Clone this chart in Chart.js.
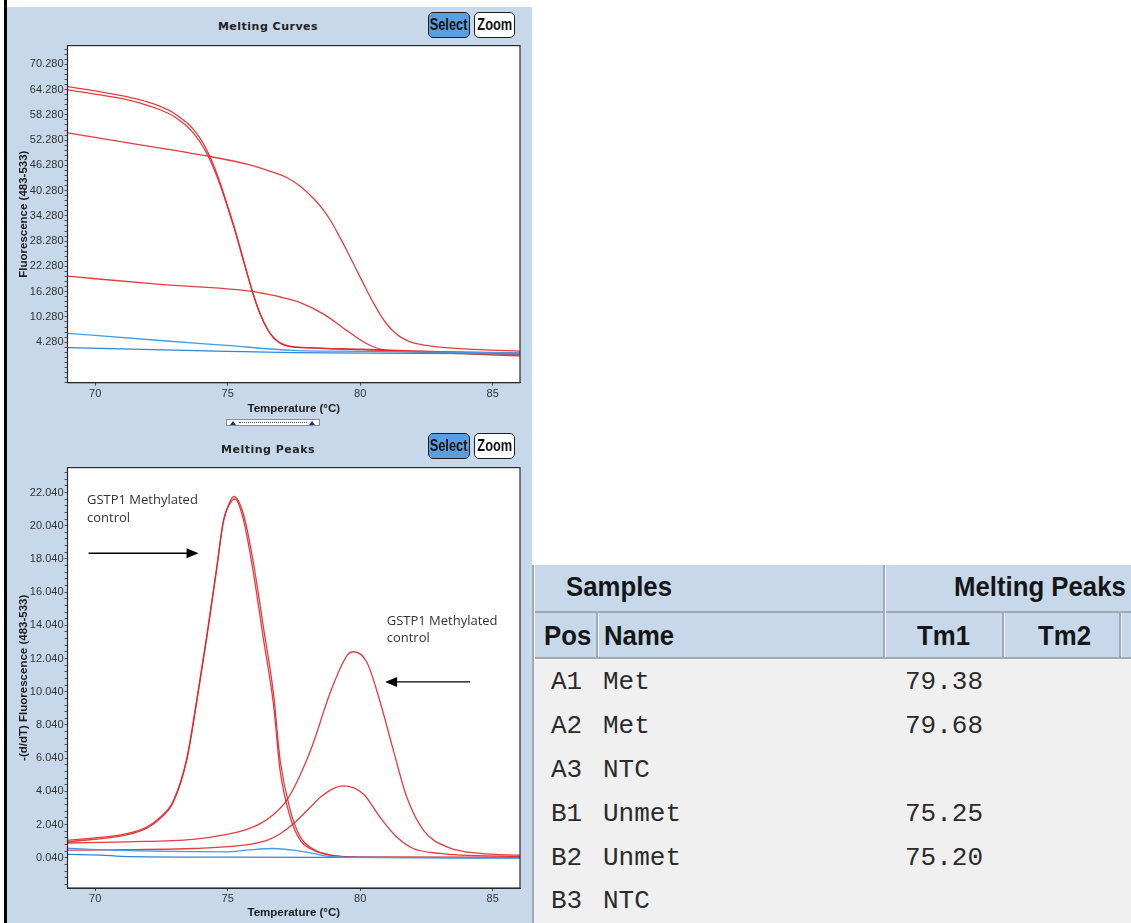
<!DOCTYPE html>
<html>
<head>
<meta charset="utf-8">
<script src="https://cdn.jsdelivr.net/npm/chart.js@4.4.1/dist/chart.umd.min.js"></script>
<style>
  html, body { margin: 0; padding: 0; background: #fff; }
  body { width: 1131px; height: 923px; position: relative; overflow: hidden; font-family: "Liberation Sans", Arial, sans-serif; }
  .abs { position: absolute; }
  .edge { left: 4px; top: 0; width: 3px; height: 923px; background: #000; }
  .panel { left: 7px; top: 7px; width: 525px; height: 916px; background: #c6d8ea; }
  .ptitle { font: bold 11px "DejaVu Sans", sans-serif; letter-spacing: 0.5px; color: #222; white-space: nowrap; transform: translate(-50%, -50%); }
  .btn { box-sizing: border-box; border: 1px solid #1e1e1e; border-radius: 5px; display: flex; align-items: center; justify-content: center; overflow: hidden; }
  .btn span { display: inline-block; font: bold 16px "Liberation Sans", Arial, sans-serif; transform: scaleX(0.8); color: #111; }
  .btn.on { background: #5a9ee0; }
  .btn.off { background: #fff; }
  canvas { position: absolute; }
  .slider { left: 226px; top: 419px; width: 94px; height: 7px; box-sizing: border-box; background: #fff; border: 1px solid #8a8f96; }
  .slider .dots { position: absolute; left: 12px; right: 12px; top: 2px; border-top: 1px dotted #555; }
  .tri { width: 0; height: 0; border-left: 3px solid transparent; border-right: 3px solid transparent; border-bottom: 4px solid #1c2a7a; }
  .tbl { left: 532px; top: 565px; width: 599px; height: 358px; background: #f0f0f0; overflow: hidden; }
  .hdr { position: absolute; left: 0; width: 599px; background: #c6d8ea; }
  .hline { position: absolute; left: 0; width: 599px; height: 2px; background: #a2a9b1; }
  .vline { position: absolute; width: 2px; background: #a2a9b1; box-shadow: 1px 0 0 #eef3f8; }
  .htxt { position: absolute; font: bold 28px "Liberation Sans", Arial, sans-serif; color: #161616; transform-origin: left center; transform: scaleX(0.92); white-space: nowrap; height: 32px; line-height: 32px; }
  .cell { position: absolute; font: 26px "Liberation Mono", "Courier New", monospace; color: #2b2b2b; white-space: nowrap; height: 30px; line-height: 30px; }
</style>
</head>
<body>
<div class="abs edge"></div>
<div class="abs panel"></div>

<div class="abs ptitle" style="left:268px;top:26px;">Melting Curves</div>
<div class="abs btn on"  style="left:428px;top:12px;width:42px;height:26px;"><span>Select</span></div>
<div class="abs btn off" style="left:474px;top:12px;width:41px;height:26px;"><span>Zoom</span></div>
<canvas id="curves" width="525" height="382" style="left:7px;top:38px;"></canvas>
<div class="abs slider"><div class="dots"></div></div>
<div class="abs tri" style="left:230px;top:421px;"></div>
<div class="abs tri" style="left:309px;top:421px;"></div>

<div class="abs ptitle" style="left:268px;top:449px;">Melting Peaks</div>
<div class="abs btn on"  style="left:428px;top:433px;width:42px;height:26px;"><span>Select</span></div>
<div class="abs btn off" style="left:474px;top:433px;width:41px;height:26px;"><span>Zoom</span></div>
<canvas id="peaks" width="525" height="463" style="left:7px;top:460px;"></canvas>

<div class="abs tbl" id="tbl"></div>

<script>
// ---- Axis tick labels ----
const tempTicks = [70, 75, 80, 85];
const fluorTickLabels = ['4.280', '10.280', '16.280', '22.280', '28.280', '34.280', '40.280', '46.280', '52.280', '58.280', '64.280', '70.280'];
const peakTickLabels = ['0.040', '2.040', '4.040', '6.040', '8.040', '10.040', '12.040', '14.040', '16.040', '18.040', '20.040', '22.040'];

// ---- Melting curves: [temperature °C, fluorescence (483-533)] ----
const curveA1Met = [[68.96, 19.95], [72.45, 18.0], [75.85, 16.42], [76.4, 15.8], [76.98, 15.01], [77.74, 13.67], [78.62, 10.95], [79.5, 7.03], [80.25, 3.9], [81.0, 2.33], [82.0, 2.1], [84.0, 1.9], [86.05, 1.75]];
const curveA2Met = [[68.96, 54.0], [71.19, 51.7], [74.21, 48.53], [75.72, 46.56], [76.73, 44.6], [77.23, 43.4], [77.74, 41.3], [78.24, 38.4], [78.62, 35.6], [78.87, 33.3], [79.25, 29.0], [79.5, 26.0], [79.88, 21.2], [80.25, 16.6], [80.5, 13.6], [80.75, 10.9], [81.0, 8.6], [81.26, 6.8], [81.5, 5.6], [81.76, 4.7], [82.0, 4.1], [82.5, 3.5], [83.02, 3.1], [84.52, 2.49], [86.05, 2.17]];
const curveA3NTC = [[68.96, 6.39], [72.45, 4.68], [74.97, 3.5], [77.47, 2.33], [80.0, 2.1], [83.0, 1.9], [86.05, 1.7]];
const curveB1Unmet = [[68.96, 64.97], [70.0, 64.0], [71.19, 62.6], [72.0, 61.3], [72.45, 60.3], [72.95, 58.8], [73.2, 57.7], [73.46, 56.4], [73.7, 54.9], [73.95, 52.8], [74.21, 49.9], [74.45, 46.6], [74.7, 42.4], [74.97, 37.2], [75.25, 31.6], [75.5, 26.0], [75.72, 21.0], [75.97, 15.6], [76.23, 10.9], [76.5, 7.3], [76.73, 5.3], [77.0, 4.0], [77.36, 3.3], [78.0, 3.0], [80.0, 2.6], [82.0, 2.2], [84.0, 1.8], [86.05, 1.3]];
const curveB2Unmet = [[68.96, 64.2], [70.0, 63.2], [71.19, 61.9], [72.0, 60.5], [72.45, 59.5], [72.95, 58.0], [73.2, 56.9], [73.46, 55.6], [73.7, 54.0], [73.95, 51.9], [74.21, 49.1], [74.45, 45.9], [74.7, 41.9], [74.97, 36.8], [75.25, 31.2], [75.5, 25.7], [75.72, 20.8], [75.97, 15.5], [76.23, 10.9], [76.5, 7.4], [76.73, 5.4], [77.0, 4.0], [77.36, 3.25], [78.0, 2.9], [80.0, 2.5], [82.0, 2.0], [84.0, 1.5], [86.05, 1.0]];
const curveB3NTC = [[68.96, 2.96], [74.97, 2.1], [77.47, 1.79], [82.0, 1.65], [86.05, 1.5]];

// ---- Melting peaks: [temperature °C, -(d/dT) fluorescence] ----
const peakA1Met = [[68.96, 0.5], [73.7, 0.6], [75.6, 0.8], [76.48, 1.09], [76.98, 1.49], [77.48, 2.09], [78.24, 3.28], [78.49, 3.68], [79.37, 4.37], [80.12, 3.88], [80.75, 2.48], [81.38, 1.29], [82.0, 0.6], [83.02, 0.3], [83.77, 0.2], [86.05, 0.12]];
const peakA2Met = [[68.96, 0.93], [71.2, 1.0], [73.7, 1.15], [74.97, 1.45], [75.72, 1.75], [76.23, 2.1], [76.73, 2.65], [77.23, 3.5], [77.61, 4.6], [78.0, 6.0], [78.24, 7.0], [78.87, 10.0], [79.5, 12.22], [79.75, 12.45], [80.25, 11.82], [80.75, 9.44], [81.26, 6.46], [81.76, 3.68], [82.39, 1.69], [83.27, 0.7], [84.53, 0.3], [86.05, 0.2]];
const peakA3NTC = [[68.96, 0.62], [70.57, 0.5], [74.97, 0.4], [75.72, 0.5], [76.73, 0.6], [77.48, 0.5], [78.24, 0.3], [78.74, 0.14], [80.0, 0.06], [86.05, 0.02]];
const peakB1Unmet = [[68.96, 1.09], [71.19, 1.49], [71.95, 1.89], [72.45, 2.48], [72.95, 3.48], [73.46, 6.06], [73.84, 9.63], [74.21, 13.41], [74.59, 17.58], [74.84, 20.36], [75.16, 21.55], [75.28, 21.65], [75.6, 20.36], [75.97, 17.19], [76.35, 13.21], [76.73, 9.24], [76.98, 5.27], [77.36, 2.48], [77.74, 1.09], [78.24, 0.5], [78.87, 0.2], [80.0, 0.08], [86.05, 0.06]];
const peakB2Unmet = [[68.96, 1.0], [71.19, 1.42], [71.95, 1.82], [72.45, 2.4], [72.95, 3.4], [73.46, 5.95], [73.84, 9.5], [74.21, 13.3], [74.59, 17.5], [74.84, 20.3], [75.12, 21.6], [75.24, 21.8], [75.6, 20.7], [75.97, 17.8], [76.35, 13.9], [76.73, 9.9], [76.98, 5.9], [77.36, 2.9], [77.74, 1.3], [78.24, 0.55], [78.87, 0.2], [80.0, 0.08], [86.05, 0.06]];
const peakB3NTC = [[68.96, 0.24], [70.2, 0.2], [71.0, 0.13], [75.0, 0.08], [86.05, 0.03]];

// ---- Sample table ----
const samplePos = ['A1', 'A2', 'A3', 'B1', 'B2', 'B3'];
const sampleName = ['Met', 'Met', 'NTC', 'Unmet', 'Unmet', 'NTC'];
const sampleTm1 = ['79.38', '79.68', '', '75.25', '75.20', ''];

const RED = 'rgba(228,32,38,0.88)';
const BLUE1 = '#3f9de8';
const BLUE2 = '#2d86d8';

function toPts(arr) { return arr.map(p => ({ x: p[0], y: p[1] })); }

function series(a1, a2, a3, b1, b2, b3) {
  const mk = (d, c) => ({ data: toPts(d), borderColor: c, borderWidth: 1.3, pointRadius: 0, fill: false, cubicInterpolationMode: 'monotone' });
  return [mk(a3, BLUE1), mk(b3, BLUE2), mk(a1, RED), mk(a2, RED), mk(b1, RED), mk(b2, RED)];
}

// white plot background and dark frame around the plot area
const framePlugin = {
  id: 'frame',
  beforeDraw(chart) {
    const a = chart.chartArea, ctx = chart.ctx;
    ctx.save(); ctx.fillStyle = '#fff';
    ctx.fillRect(a.left, a.top, a.right - a.left, a.bottom - a.top);
    ctx.restore();
  },
  afterDraw(chart) {
    const a = chart.chartArea, ctx = chart.ctx;
    ctx.save(); ctx.strokeStyle = '#2a2a2a'; ctx.lineWidth = 1.2;
    ctx.strokeRect(a.left, a.top, a.right - a.left, a.bottom - a.top);
    ctx.restore();
  }
};

// Callout labels with arrows on the peaks panel, anchored in data units
const callouts = [
  { text: ['GSTP1 Methylated', 'control'], tx: 69.69, ty: 21.55, from: 69.75, to: 73.9, ay: 18.38 },
  { text: ['GSTP1 Methylated', 'control'], tx: 81.0, ty: 14.3, from: 84.15, to: 80.94, ay: 10.63 }
];
const calloutPlugin = {
  id: 'callouts',
  afterDraw(chart) {
    const ctx = chart.ctx, sx = chart.scales.x, sy = chart.scales.y;
    ctx.save();
    callouts.forEach(c => {
      ctx.fillStyle = '#333';
      ctx.font = '13px "Open Sans", sans-serif';
      ctx.textBaseline = 'middle';
      ctx.textAlign = 'left';
      const x0 = sx.getPixelForValue(c.tx), y0 = sy.getPixelForValue(c.ty);
      c.text.forEach((t, i) => ctx.fillText(t, x0, y0 + i * 17.5));
      const xa = sx.getPixelForValue(c.from), xb = sx.getPixelForValue(c.to), ya = sy.getPixelForValue(c.ay);
      const dir = xb > xa ? 1 : -1;
      ctx.strokeStyle = '#000'; ctx.lineWidth = 1.3;
      ctx.beginPath(); ctx.moveTo(xa, ya); ctx.lineTo(xb - dir * 11, ya); ctx.stroke();
      ctx.fillStyle = '#000';
      ctx.beginPath(); ctx.moveTo(xb, ya); ctx.lineTo(xb - dir * 12, ya - 5); ctx.lineTo(xb - dir * 12, ya + 5); ctx.closePath(); ctx.fill();
    });
    ctx.restore();
  }
};

function makeChart(id, data, yLabels, yMin, yMax, minorStep, yTitle, xAxisH, padTop, xTitlePad, extra) {
  const majors = yLabels.map(parseFloat);
  return new Chart(document.getElementById(id), {
    type: 'line',
    data: { datasets: data },
    plugins: [framePlugin].concat(extra || []),
    options: {
      responsive: false, animation: false, devicePixelRatio: 1,
      layout: { padding: { top: padTop, right: 12, left: 0, bottom: 0 } },
      plugins: { legend: { display: false }, tooltip: { enabled: false } },
      scales: {
        x: {
          type: 'linear', min: 68.955, max: 86.03,
          afterBuildTicks: s => { s.ticks = tempTicks.map(v => ({ value: v })); },
          afterFit: s => { s.height = xAxisH; },
          grid: { drawOnChartArea: false, tickLength: 3, color: '#444' },
          border: { color: '#2a2a2a' },
          ticks: { autoSkip: false, maxRotation: 0, padding: 1.5, color: '#333', font: { family: 'Liberation Sans', size: 11 }, callback: v => String(v) },
          title: { display: true, text: 'Temperature (°C)', color: '#1a1a1a', font: { family: 'Liberation Sans', size: 11.5, weight: 'bold' }, padding: { top: 0, bottom: xTitlePad } }
        },
        y: {
          type: 'linear', min: yMin, max: yMax,
          afterBuildTicks: s => {
            const vals = [];
            for (let v = majors[0]; v >= yMin; v -= minorStep) vals.push(v);
            for (let v = majors[0] + minorStep; v <= yMax; v += minorStep) vals.push(v);
            vals.sort((p, q) => p - q);
            s.ticks = vals.map(v => ({ value: v }));
          },
          afterFit: s => { s.width = 60.5; },
          grid: { drawOnChartArea: false, tickLength: 3, color: '#555' },
          border: { color: '#2a2a2a' },
          ticks: {
            autoSkip: false, padding: 1, color: '#333', font: { family: 'Liberation Sans', size: 11 },
            callback: v => { const i = majors.findIndex(m => Math.abs(m - v) < 1e-6); return i >= 0 ? yLabels[i] : ''; }
          },
          title: { display: true, text: yTitle, color: '#1a1a1a', font: { family: 'Liberation Sans', size: 11.5, weight: 'bold' }, padding: { top: 9.6, bottom: 0 } }
        }
      }
    }
  });
}

makeChart('curves', series(curveA1Met, curveA2Met, curveA3NTC, curveB1Unmet, curveB2Unmet, curveB3NTC),
  fluorTickLabels, -5.35, 74.74, 1.2, 'Fluorescence (483-533)', 37.3, 3.7, 3.8);

makeChart('peaks', series(peakA1Met, peakA2Met, peakA3NTC, peakB1Unmet, peakB2Unmet, peakB3NTC),
  peakTickLabels, -1.78, 23.54, 0.4, '-(d/dT) Fluorescence (483-533)', 35, 3.4, 2.8, [calloutPlugin]);

// Samples table
(function buildTable() {
  const t = document.getElementById('tbl');
  const add = (cls, style, txt) => { const d = document.createElement('div'); d.className = cls; d.setAttribute('style', style); if (txt !== undefined) d.textContent = txt; t.appendChild(d); return d; };
  add('hdr', 'top:0;height:46px;');
  add('hdr', 'top:48px;height:44px;');
  add('hline', 'top:46px;');
  add('hline', 'top:92px;');
  add('vline', 'left:0;top:0;height:358px;');
  add('vline', 'left:351px;top:0;height:92px;');
  add('vline', 'left:64px;top:48px;height:44px;');
  add('vline', 'left:470px;top:48px;height:44px;');
  add('vline', 'left:587px;top:48px;height:44px;');
  add('htxt', 'left:34px;top:6px;', 'Samples');
  add('htxt', 'left:422px;top:6px;', 'Melting Peaks');
  add('htxt', 'left:12px;top:55px;', 'Pos');
  add('htxt', 'left:72px;top:55px;', 'Name');
  add('htxt', 'left:385px;top:55px;', 'Tm1');
  add('htxt', 'left:506px;top:55px;', 'Tm2');
  const rowY = [116.7, 160.7, 205, 249, 292.7, 335.7];
  samplePos.forEach((p, i) => {
    const top = 'top:' + (rowY[i] - 15) + 'px;';
    add('cell', 'left:19px;' + top, p);
    add('cell', 'left:71px;' + top, sampleName[i]);
    if (sampleTm1[i]) add('cell', 'left:373px;' + top, sampleTm1[i]);
  });
})();
</script>
</body>
</html>
